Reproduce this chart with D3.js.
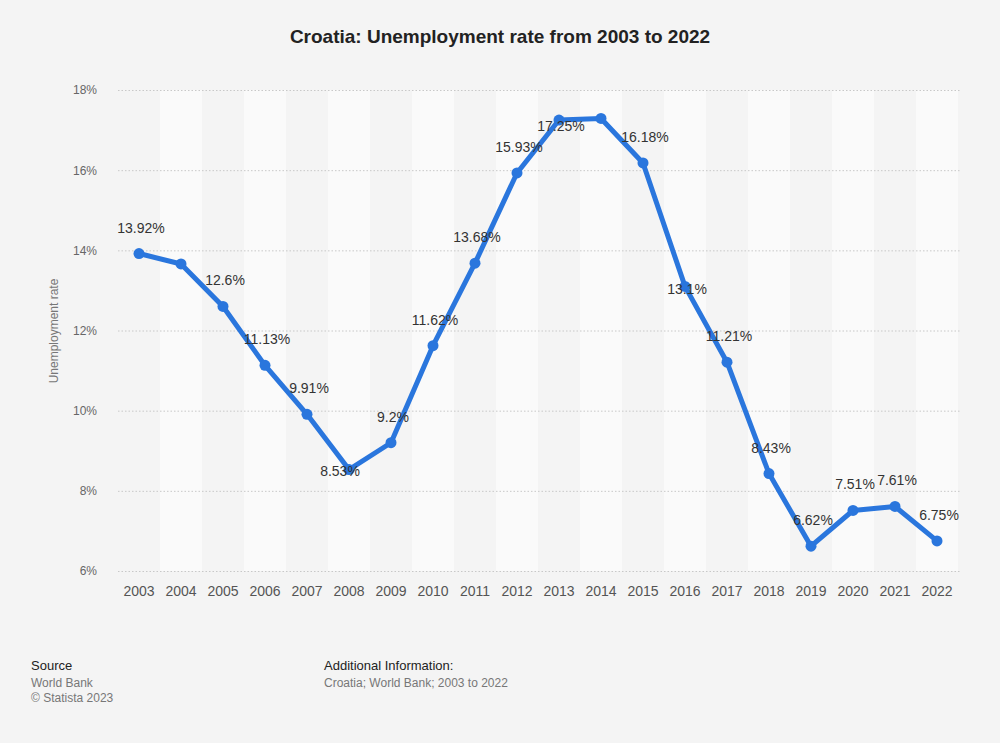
<!DOCTYPE html>
<html><head><meta charset="utf-8">
<script src="https://cdn.jsdelivr.net/npm/d3@7"></script>
<style>body{margin:0;background:#f4f4f4;}svg{display:block;font-family:"Liberation Sans",Arial,sans-serif;}</style>
</head><body>
<script>
const years = ["2003","2004","2005","2006","2007","2008","2009","2010","2011","2012","2013","2014","2015","2016","2017","2018","2019","2020","2021","2022"];
const rates = [13.92,13.66,12.6,11.13,9.91,8.53,9.2,11.62,13.68,15.93,17.25,17.29,16.18,13.1,11.21,8.43,6.62,7.51,7.61,6.75];
const labels = ["13.92%","","12.6%","11.13%","9.91%","8.53%","9.2%","11.62%","13.68%","15.93%","17.25%","","16.18%","13.1%","11.21%","8.43%","6.62%","7.51%","7.61%","6.75%"];
const yTicks = [6,8,10,12,14,16,18];

(function(){
const W=1000,H=743;
const svg=d3.select("body").append("svg").attr("width",W).attr("height",H);
svg.append("rect").attr("width",W).attr("height",H).attr("fill","#f4f4f4");
const pL=118,pR=958,pT=90,pB=571;
const x=d3.scaleBand().domain(years).range([pL,pR]);
const y=d3.scaleLinear().domain([6,18]).range([pB,pT]);

svg.append("g").selectAll("rect").data(years).join("rect")
 .attr("x",d=>x(d)).attr("y",pT).attr("width",x.bandwidth()).attr("height",pB-pT)
 .attr("fill",(d,i)=>i%2?"#fafafa":"#f4f4f4");

const ya=svg.append("g").attr("transform",`translate(${pL},0)`)
 .call(d3.axisLeft(y).tickValues(yTicks).tickFormat(d=>d+"%").tickSize(-(pR-pL+2)).tickPadding(21));
ya.select(".domain").remove();
ya.selectAll("line").attr("stroke","#c8c8c8").attr("stroke-dasharray","1.5,2");
ya.selectAll("text").attr("fill","#666").attr("font-size",12);

const xa=svg.append("g").attr("transform",`translate(0,${pB})`)
 .call(d3.axisBottom(x).tickSize(0).tickPadding(15));
xa.select(".domain").remove();
xa.selectAll("text").attr("fill","#555").attr("font-size",14);

svg.append("text").attr("transform","translate(58,331) rotate(-90)").attr("text-anchor","middle")
 .attr("fill","#777").attr("font-size",12).text("Unemployment rate");

const cx=d=>x(d)+x.bandwidth()/2;
const line=d3.line().x((d,i)=>cx(years[i])).y(d=>y(d));
svg.append("path").datum(rates).attr("d",line).attr("fill","none").attr("stroke","#2a76dd").attr("stroke-width",5).attr("stroke-linejoin","round");
svg.append("g").selectAll("circle").data(rates).join("circle")
 .attr("cx",(d,i)=>cx(years[i])).attr("cy",d=>y(d)).attr("r",5.5).attr("fill","#2a76dd");
// label placement adjustments mimicking the collision handling of the original
const shiftX={"2008":-11}, shiftY={"2008":6,"2013":11,"2016":8};
svg.append("g").selectAll("text").data(rates).join("text")
 .attr("x",(d,i)=>cx(years[i])+2+(shiftX[years[i]]||0))
 .attr("y",(d,i)=>shiftY[years[i]]!==undefined?y(d)+shiftY[years[i]]:y(d)-21)
 .attr("text-anchor","middle")
 .attr("fill","#333").attr("font-size",14).text((d,i)=>labels[i]);

svg.append("text").attr("x",500).attr("y",43).attr("text-anchor","middle").attr("font-weight","bold")
 .attr("font-size",19).attr("fill","#222").text("Croatia: Unemployment rate from 2003 to 2022");

const f=svg.append("g").attr("font-size",12);
f.append("text").attr("x",31).attr("y",670).attr("fill","#222").attr("font-size",13).text("Source");
f.append("text").attr("x",31).attr("y",687).attr("fill","#777").text("World Bank");
f.append("text").attr("x",31).attr("y",702).attr("fill","#777").text("© Statista 2023");
f.append("text").attr("x",324).attr("y",670).attr("fill","#222").attr("font-size",13).text("Additional Information:");
f.append("text").attr("x",324).attr("y",687).attr("fill","#777").text("Croatia; World Bank; 2003 to 2022");
})();
</script>
</body></html>
